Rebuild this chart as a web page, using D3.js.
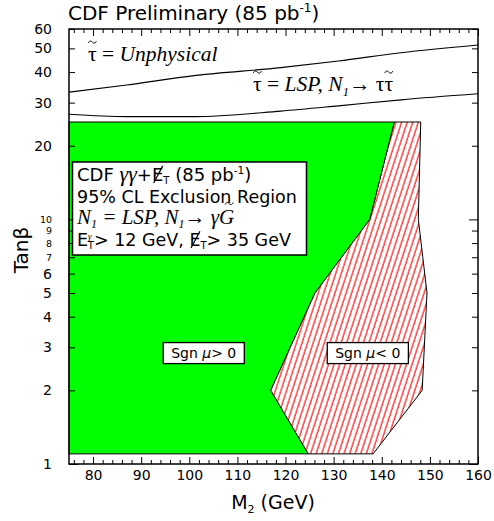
<!DOCTYPE html>
<html><head><meta charset="utf-8">
<script src="https://cdn.jsdelivr.net/npm/d3@7"></script>
<style>body{margin:0;background:#fff} svg{display:block} text{white-space:pre}</style>
</head><body>
<svg id="chart" width="494" height="521" xmlns="http://www.w3.org/2000/svg"></svg>
<script>
// ---------- data ----------
const xDomain = [75, 160];
const yDomain = [1, 60];
const xMajorTicks = [80, 90, 100, 110, 120, 130, 140, 150, 160];
const xMinorTicks = [76, 78, 82, 84, 86, 88, 92, 94, 96, 98, 102, 104, 106, 108, 112, 114, 116, 118,
                     122, 124, 126, 128, 132, 134, 136, 138, 142, 144, 146, 148, 152, 154, 156, 158];
const yMajorTicks = [1, 10];
const yMinorTicks = [2, 3, 4, 5, 6, 7, 8, 9, 20, 30, 40, 50, 60];
const yTickLabels = [1, 2, 3, 4, 5, 6, 7, 8, 9, 10, 20, 30, 40, 50, 60];
const ySmallLabels = [7, 8, 9, 10];

// Sgn mu > 0 exclusion region (green)
const plusM2  = [75, 75, 142.6, 137.5, 126.1, 116.9, 124.7];
const plusTan = [1.1, 25, 25, 10, 5, 2, 1.1];
// Sgn mu < 0 exclusion region (hatched)
const minusM2  = [142.6, 148.1, 147.6, 149.4, 148.4, 138.2, 124.7, 116.9, 126.1, 137.5];
const minusTan = [25, 25, 10, 5, 2, 1.1, 1.1, 2, 5, 10];

// stau boundaries
const stauM2       = [75, 87, 101, 119, 131, 144, 160];
const stauUpperTan = [33.1, 35.4, 38.7, 41.7, 44.4, 48.0, 51.6];
const stauLowerTan = [26.9, 26.3, 26.3, 27.7, 29.1, 30.8, 32.6];

// ---------- setup ----------
const SANS = "'DejaVu Sans', Verdana, sans-serif";
const SERIF = "'Liberation Serif', 'Times New Roman', serif";
const svg = d3.select('#chart');
svg.append('rect').attr('width', 494).attr('height', 521).attr('fill', '#fff');

const x = d3.scaleLinear().domain(xDomain).range([69, 478]);
const y = d3.scaleLog().domain(yDomain).range([464, 29]);

const defs = svg.append('defs');
const pat = defs.append('pattern').attr('id', 'hatch')
  .attr('patternUnits', 'userSpaceOnUse').attr('width', 5.3).attr('height', 20)
  .attr('patternTransform', 'rotate(18)');
pat.append('rect').attr('width', 5.3).attr('height', 20).attr('fill', '#fff');
pat.append('line').attr('x1', 1).attr('y1', 0).attr('x2', 1).attr('y2', 20)
  .attr('stroke', '#ff0000').attr('stroke-width', 1.1);

const poly = (ms, ts) => ms.map((m, i) => [x(m), y(ts[i])]);
const closed = d3.line().curve(d3.curveLinearClosed);

// regions
svg.append('path').attr('d', closed(poly(minusM2, minusTan)))
  .attr('fill', 'url(#hatch)').attr('stroke', '#000').attr('stroke-width', 1);
svg.append('path').attr('d', closed(poly(plusM2, plusTan)))
  .attr('fill', '#00ff00').attr('stroke', '#000').attr('stroke-width', 1);

// stau curves
const curve = d3.line().x(d => x(d[0])).y(d => y(d[1])).curve(d3.curveMonotoneX);
[stauUpperTan, stauLowerTan].forEach(ts => {
  svg.append('path').attr('d', curve(stauM2.map((m, i) => [m, ts[i]])))
    .attr('fill', 'none').attr('stroke', '#000').attr('stroke-width', 1.1);
});

// ---------- axes ----------
function axisG(axis, tx, ty) {
  const g = svg.append('g').attr('transform', `translate(${tx},${ty})`).call(axis);
  g.select('.domain').remove();
  g.selectAll('line').attr('stroke', '#000').attr('stroke-width', 1);
  g.attr('font-family', SANS).attr('font-size', 14);
  g.selectAll('text').attr('fill', '#000');
  return g;
}
axisG(d3.axisBottom(x).tickValues(xMajorTicks).tickSize(-7).tickPadding(6).tickFormat(d3.format('d')), 0, 464);
axisG(d3.axisBottom(x).tickValues(xMinorTicks).tickSize(-4).tickFormat(''), 0, 464);
axisG(d3.axisTop(x).tickValues(xMajorTicks).tickSize(-7).tickFormat(''), 0, 29);
axisG(d3.axisTop(x).tickValues(xMinorTicks).tickSize(-4).tickFormat(''), 0, 29);
axisG(d3.axisLeft(y).tickValues(yMajorTicks).tickSize(-9).tickFormat(''), 69, 0);
axisG(d3.axisLeft(y).tickValues(yMinorTicks).tickSize(-6).tickFormat(''), 69, 0);
axisG(d3.axisRight(y).tickValues(yMajorTicks).tickSize(-9).tickFormat(''), 478, 0);
axisG(d3.axisRight(y).tickValues(yMinorTicks).tickSize(-6).tickFormat(''), 478, 0);
const gl = axisG(d3.axisLeft(y).tickValues(yTickLabels).tickSize(0).tickPadding(17).tickFormat(d3.format('d')), 69, 0);
gl.selectAll('text').attr('font-size', d => ySmallLabels.includes(d) ? 9.5 : 14);

// frame
svg.append('rect').attr('x', x(xDomain[0])).attr('y', y(yDomain[1]))
  .attr('width', x(xDomain[1]) - x(xDomain[0])).attr('height', y(yDomain[0]) - y(yDomain[1]))
  .attr('fill', 'none').attr('stroke', '#000').attr('stroke-width', 1.5);

// ---------- text helpers ----------
function rich(px, py, parts, base) {
  const t = svg.append('text').attr('x', px).attr('y', py).attr('fill', '#000')
    .attr('xml:space', 'preserve');
  parts.forEach(p => {
    const s = t.append('tspan').text(p.t)
      .attr('font-family', p.ff || base.ff)
      .attr('font-size', p.fs || base.fs)
      .attr('font-style', p.it ? 'italic' : 'normal');
    if (p.dy) s.attr('dy', p.dy);
    if (p.dx) s.attr('dx', p.dx);
    if (p.mark) s.attr('data-mark', p.mark);
  });
  return t;
}

// title
rich(68, 20, [
  {t: 'CDF Preliminary (85 pb'},
  {t: '-1', fs: 12, dy: -8},
  {t: ')', dy: 8}
], {ff: SANS, fs: 20});

// axis titles
svg.append('text').attr('transform', 'translate(28,250) rotate(-90)')
  .attr('text-anchor', 'middle').attr('font-family', SANS).attr('font-size', 20)
  .attr('fill', '#000').text('Tanβ');
const xt = rich(0, 509, [
  {t: 'M'}, {t: '2', fs: 11, dy: 4}, {t: ' (GeV)', dy: -4}
], {ff: SANS, fs: 19});
xt.attr('x', 273).attr('text-anchor', 'middle');

// stau labels
rich(88, 61, [
  {t: 'τ', mark: 'tilde'}, {t: ' = '}, {t: 'Unphysical', it: true}
], {ff: SERIF, fs: 21.5});
rich(253, 91, [
  {t: 'τ', mark: 'tilde'}, {t: ' = '}, {t: 'LSP, N', it: true},
  {t: '1', it: true, fs: 12.5, dy: 5}, {t: '→ ', dy: -5}, {t: 'τ'}, {t: 'τ', mark: 'tilde'}
], {ff: SERIF, fs: 21.5});

// big legend box
svg.append('rect').attr('x', 72.5).attr('y', 162).attr('width', 234).attr('height', 93)
  .attr('fill', '#fff').attr('stroke', '#000').attr('stroke-width', 1.5);
rich(77, 181, [
  {t: 'CDF '}, {t: 'γγ', ff: SERIF, it: true, fs: 22}, {t: '+'},
  {t: 'E', mark: 'slash'}, {t: 'T', fs: 10, dy: 3}, {t: ' (85 pb', dy: -3},
  {t: '-1', fs: 10.5, dy: -7}, {t: ')', dy: 7}
], {ff: SANS, fs: 18});
rich(77, 202.5, [{t: '95% CL Exclusion Region'}], {ff: SANS, fs: 17.5});
rich(77, 223.5, [
  {t: 'N', it: true}, {t: '1', it: true, fs: 12, dy: 4}, {t: ' = LSP, N', it: true, dy: -4},
  {t: '1', it: true, fs: 12, dy: 4}, {t: '→ ', dy: -4}, {t: 'γ', it: true},
  {t: 'G', it: true, mark: 'tildeG'}
], {ff: SERIF, fs: 21});
rich(77, 246, [
  {t: 'E'}, {t: 'γ', ff: SERIF, it: true, fs: 9, dy: -7}, {t: 'T', fs: 10, dx: -3.8, dy: 10},
  {t: '> 12 GeV, ', dy: -3}, {t: 'E', mark: 'slash'}, {t: 'T', fs: 10, dy: 3},
  {t: '> 35 GeV', dy: -3}
], {ff: SANS, fs: 17.5});

// sign boxes
function sgnBox(m2, tb, label) {
  const t = rich(x(m2), y(tb), [{t: 'Sgn '}, {t: 'μ', it: true}, {t: label}], {ff: SANS, fs: 14})
    .attr('text-anchor', 'middle');
  const bb = t.node().getBBox();
  svg.insert('rect', () => t.node())
    .attr('x', bb.x - 8).attr('y', bb.y - 2.5).attr('width', bb.width + 16).attr('height', bb.height + 5)
    .attr('fill', '#fff').attr('stroke', '#000').attr('stroke-width', 1.3);
}
sgnBox(103, 2.71, '> 0');
sgnBox(137.1, 2.71, '< 0');

// decorations: tildes and slashes
svg.selectAll('tspan[data-mark]').each(function () {
  const m = this.getAttribute('data-mark');
  const fs = +this.getAttribute('font-size');
  let ex, base;
  try {
    const r = this.getExtentOfChar(0);
    ex = {x: r.x, w: r.width};
    base = this.getStartPositionOfChar(0).y;
  } catch (e) {
    const b = this.getBBox();
    ex = {x: b.x, w: b.width};
    base = b.y + b.height * 0.8;
  }
  if (m === 'slash') {
    svg.append('line')
      .attr('x1', ex.x + ex.w * 0.15).attr('y1', base + 2)
      .attr('x2', ex.x + ex.w * 0.95).attr('y2', base - 0.73 * fs - 2)
      .attr('stroke', '#000').attr('stroke-width', 1.2);
  } else {
    const cx = ex.x + ex.w / 2 + (m === 'tildeG' ? 0.12 * fs : 0);
    const ty = base - (m === 'tildeG' ? 0.95 : 0.88) * fs;
    svg.append('path')
      .attr('d', `M${cx - 4},${ty + 1} C${cx - 3},${ty - 1.5} ${cx - 1.5},${ty - 1.5} ${cx},${ty} S${cx + 3},${ty + 1.5} ${cx + 4},${ty - 1}`)
      .attr('fill', 'none').attr('stroke', '#000').attr('stroke-width', 1);
  }
});
</script>
</body></html>
